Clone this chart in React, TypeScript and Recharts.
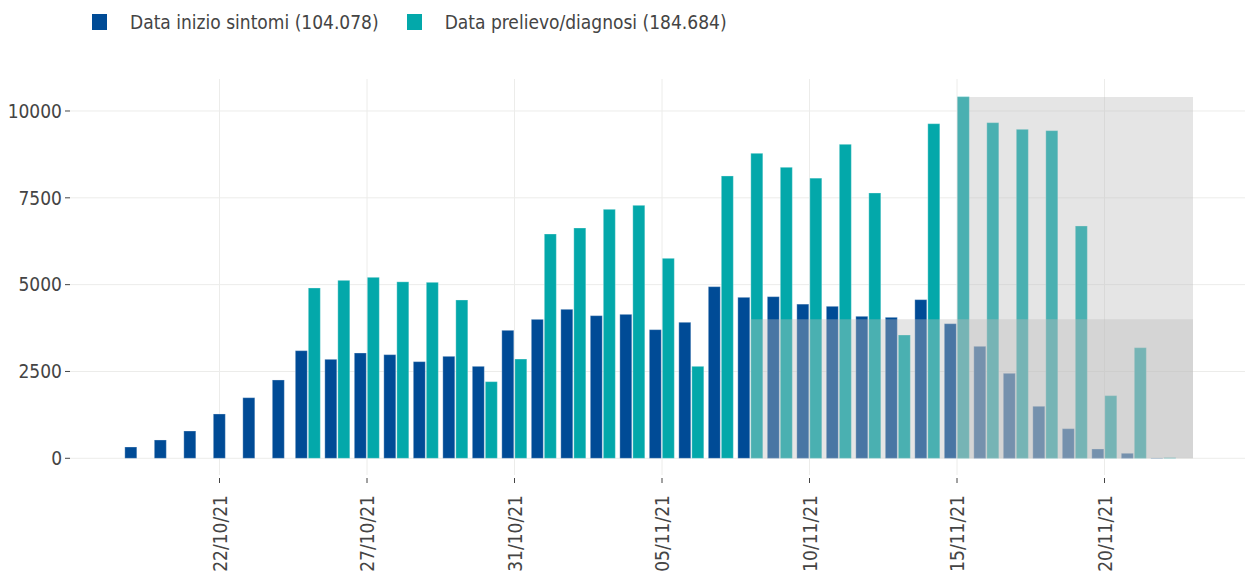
import React from 'react';
import { BarChart, Bar, XAxis, YAxis, CartesianGrid, ReferenceArea, Legend } from 'recharts';

const dates = [
  '19/10/21', '20/10/21', '21/10/21', '22/10/21', '23/10/21', '24/10/21', '25/10/21', '26/10/21', '27/10/21',
  '28/10/21', '29/10/21', '30/10/21', '31/10/21', '01/11/21', '02/11/21', '03/11/21', '04/11/21', '05/11/21',
  '06/11/21', '07/11/21', '08/11/21', '09/11/21', '10/11/21', '11/11/21', '12/11/21', '13/11/21', '14/11/21',
  '15/11/21', '16/11/21', '17/11/21', '18/11/21', '19/11/21', '20/11/21', '21/11/21', '22/11/21', '23/11/21',
];

const sintomi = [
  325, 527, 786, 1276, 1745, 2255, 3099, 2850, 3032, 2984, 2783, 2936, 2648, 3685, 4001, 4290, 4107, 4145,
  3704, 3916, 4942, 4635, 4654, 4439, 4376, 4088, 4059, 4568, 3876, 3224, 2447, 1497, 853, 268, 144, 10,
];

const prelievo: (number | null)[] = [
  null, null, null, null, null, null, 4904, 5124, 5211, 5081, 5067, 4558, 2207, 2858, 6458, 6631, 7169, 7284,
  5758, 2648, 8129, 8782, 8379, 8066, 9041, 7639, 3550, 9634, 10412, 9664, 9472, 9434, 6689, 1804, 3185, 20,
];

const tickDays = [3, 8, 13, 18, 23, 28, 33];
const tickLabels = ['22/10/21', '27/10/21', '31/10/21', '05/11/21', '10/11/21', '15/11/21', '20/11/21'];
const yTicks = [0, 2500, 5000, 7500, 10000];
const seriesNames = ['Data inizio sintomi (104.078)', 'Data prelievo/diagnosi (184.684)'];
const seriesColors = ['#004b96', '#03a8aa'];
const shadeStart = [21, 28];
const shadeEnd = [36, 36];
const shadeTop = [4000, 10400];

const data = dates.map((d, i) => ({ day: i, date: d, sintomi: sintomi[i], prelievo: prelievo[i] }));

const FONT = "'DejaVu Sans Condensed', 'Liberation Sans', sans-serif";
const TEXT = '#444444';
const BAR_GAP = 1;
const W = 1248;
const H = 574;
const MARGIN = { top: 79, right: 3, bottom: 0, left: 0 };
const X_PAD = { left: 46.25, right: 66.75 };
const Y_DOMAIN: [number, number] = [-481, 10921];

const BlueShape = (p: any) => {
  const solo = p.payload == null || p.payload.prelievo == null;
  const dx = solo ? (p.width + BAR_GAP) / 2 : 0;
  if (!p.height) return null;
  return (
    <rect x={p.x + dx} y={p.y} width={p.width} height={p.height} fill={p.fill}
      stroke="#ffffff" strokeOpacity={0.3} strokeWidth={1} />
  );
};

const TealShape = (p: any) => {
  if (!p.height) return null;
  return (
    <rect x={p.x} y={p.y} width={p.width} height={p.height} fill={p.fill}
      stroke="#ffffff" strokeOpacity={0.3} strokeWidth={1} />
  );
};

const XTick = (p: any) => {
  const idx = tickDays.indexOf(Number(p.payload.value));
  const label = idx >= 0 ? tickLabels[idx] : '';
  return (
    <g>
      <line x1={p.x} x2={p.x} y1={p.y + 3} y2={p.y + 8} stroke={TEXT} strokeWidth={1} />
      <text x={0} y={0} transform={`translate(${p.x},${p.y + 20}) rotate(-90)`} textAnchor="end"
        dominantBaseline="central" fill={TEXT} fontSize={19} fontFamily={FONT}>
        {label}
      </text>
    </g>
  );
};

const LegendContent = () => (
  <div style={{ display: 'flex', alignItems: 'center', paddingLeft: 92, paddingTop: 13, fontFamily: FONT, fontSize: 19, color: TEXT }}>
    {seriesNames.map((n, i) => (
      <div key={n} style={{ display: 'flex', alignItems: 'center', marginRight: 28 }}>
        <div style={{ width: 15, height: 16, background: seriesColors[i], marginRight: 23 }} />
        <span style={{ whiteSpace: 'nowrap', lineHeight: '18px' }}>{n}</span>
      </div>
    ))}
  </div>
);

export default function App() {
  return (
    <div style={{ position: 'absolute', left: 0, top: 0, width: W, height: H, background: '#fff' }}>
      <div style={{ position: 'absolute', left: 0, top: 0 }}>
        <BarChart width={W} height={H} data={data} margin={MARGIN} barCategoryGap="7%" barGap={BAR_GAP}>
          <CartesianGrid stroke="#ececea" strokeWidth={1} syncWithTicks />
          <XAxis dataKey="day" type="category" ticks={tickDays} interval={0} height={99}
            padding={X_PAD} axisLine={false} tickLine={false} tickSize={0} tickMargin={0}
            tick={<XTick />} />
          <YAxis type="number" domain={Y_DOMAIN} ticks={yTicks} width={70} axisLine={false}
            tickSize={5} tickMargin={3} tickLine={{ stroke: TEXT }}
            tick={{ fill: TEXT, fontSize: 19, fontFamily: FONT }} allowDataOverflow />
          <Legend verticalAlign="middle" align="center" layout="horizontal"
            wrapperStyle={{ top: 0, left: 0, width: W, height: 50 }} content={<LegendContent />} />
          <Bar dataKey="sintomi" fill={seriesColors[0]} shape={BlueShape} isAnimationActive={false} />
          <Bar dataKey="prelievo" fill={seriesColors[1]} shape={TealShape} isAnimationActive={false} />
        </BarChart>
      </div>
      <div style={{ position: 'absolute', left: 0, top: 0, pointerEvents: 'none' }}>
        <BarChart width={W} height={H} data={data} margin={MARGIN}>
          <XAxis xAxisId="num" dataKey="day" type="number" domain={[-0.5, 35.5]} height={99}
            padding={X_PAD} allowDataOverflow axisLine={false} tickLine={false} tick={false} />
          <YAxis type="number" domain={Y_DOMAIN} ticks={yTicks} width={70} axisLine={false}
            tickLine={false} tick={false} allowDataOverflow />
          {shadeStart.map((s, i) => (
            <ReferenceArea key={i} xAxisId="num" x1={s} x2={shadeEnd[i]} y1={0} y2={shadeTop[i]}
              fill="#bdbdbd" fillOpacity={0.39} stroke="none" ifOverflow="visible" />
          ))}
        </BarChart>
      </div>
    </div>
  );
}
